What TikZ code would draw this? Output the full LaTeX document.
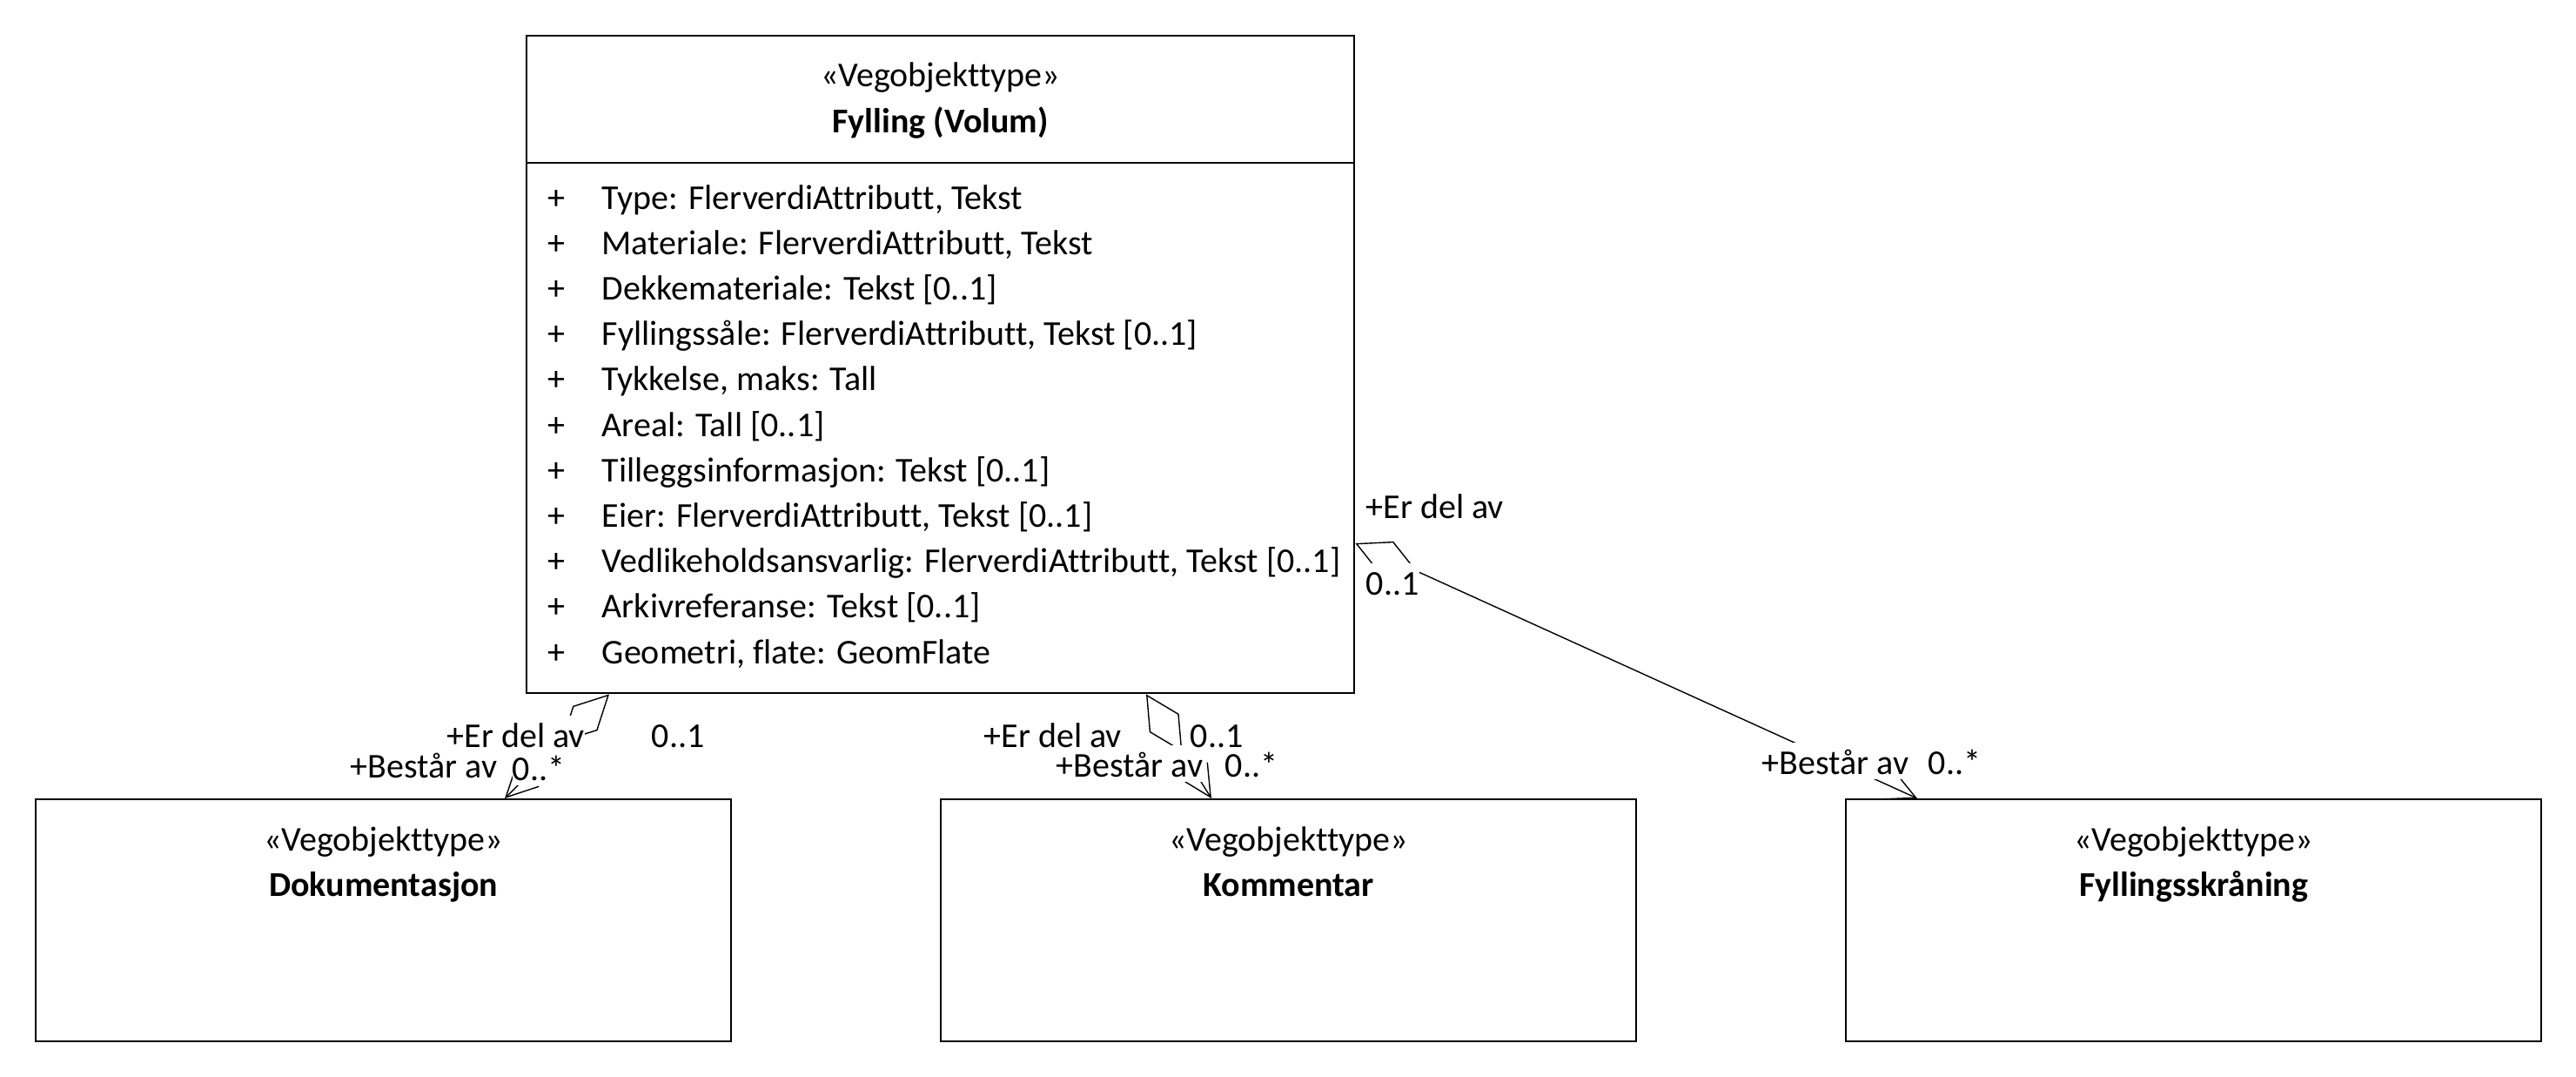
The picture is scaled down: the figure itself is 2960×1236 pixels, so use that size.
\documentclass[tikz,border=0pt]{standalone}
\usepackage{fontspec}
\setmainfont{Carlito}[Ligatures=NoCommon]
\usetikzlibrary{arrows.meta,calc}

\begin{document}
\begin{tikzpicture}[
    x=0.25pt, y=-0.25pt,
    font=\fontsize{10}{13}\selectfont,
    classbox/.style={draw, line width=0.6pt, inner sep=0pt, anchor=north west},
    bigbox/.style={classbox, minimum width=237.75pt, minimum height=188.75pt},
    smallbox/.style={classbox, minimum width=199.75pt, minimum height=69.5pt},
    stereo/.style={inner sep=0pt, text height=0.75em, text depth=0.25em},
    cname/.style={stereo, font=\fontsize{10}{13}\selectfont\bfseries},
    attr/.style={inner sep=0pt, anchor=west, text height=0.75em, text depth=0.25em},
    role/.style={fill=white, inner sep=0pt, anchor=west, text height=0.9em, text depth=0.15em},
    assoc/.style={line width=0.35pt,
        {Diamond[open, length=19.5pt, width=10pt]}-{Straight Barb[length=9pt, width=9pt]}}
]
\useasboundingbox (0,0) rectangle (2960,1236);

% classes
\node[bigbox] (main) at (604,40) {};
\node[smallbox] (dok) at (40,917) {};
\node[smallbox] (kom) at (1080,917) {};
\node[smallbox] (fyll) at (2120,917) {};

\draw[line width=0.6pt] ($(main.north west)+(0,147)$) -- ($(main.north east)+(0,147)$);

\node[stereo] (mainst) at ($(main.north)+(0,49)$) {«Vegobjekttype»};
\node[cname] (mainname) at ($(main.north)+(0,102)$) {Fylling (Volum)};
\node[stereo] (dokst) at ($(dok.north)+(0,50)$) {«Vegobjekttype»};
\node[cname] (dokname) at ($(dok.north)+(0,102)$) {Dokumentasjon};
\node[stereo] (komst) at ($(kom.north)+(0,50)$) {«Vegobjekttype»};
\node[cname] (komname) at ($(kom.north)+(0,102)$) {Kommentar};
\node[stereo] (fyllst) at ($(fyll.north)+(0,50)$) {«Vegobjekttype»};
\node[cname] (fyllname) at ($(fyll.north)+(0,102)$) {Fyllingsskråning};

% attributes
\foreach \txt [count=\i from 0] in {
    {Type: FlerverdiAttributt, Tekst},
    {Materiale: FlerverdiAttributt, Tekst},
    {Dekkemateriale: Tekst [0..1]},
    {Fyllingssåle: FlerverdiAttributt, Tekst [0..1]},
    {Tykkelse, maks: Tall},
    {Areal: Tall [0..1]},
    {Tilleggsinformasjon: Tekst [0..1]},
    {Eier: FlerverdiAttributt, Tekst [0..1]},
    {Vedlikeholdsansvarlig: FlerverdiAttributt, Tekst [0..1]},
    {Arkivreferanse: Tekst [0..1]},
    {Geometri, flate: GeomFlate}}
    \node[attr] (attr\i) at (629, {230+52.2*\i}) {\makebox[15.5pt][l]{+}\txt};

% associations
\draw[assoc] ($(main.south west)+(96,0)$) -- ($(dok.north west)+(540,0)$);
\draw[assoc] ($(main.south west)+(713,0)$) -- ($(kom.north west)+(312,0)$);
\draw[assoc] ($(main.north east)+(0,584)$) -- ($(fyll.north west)+(83,0)$);

% role names
\node[role] (dokrole) at (402,878) {+Består av};
\node[role] (dokmult) at (588,881) {0..*};
\node[role] (mainrole1) at (513,843) {+Er del av};
\node[role] (mainmult1) at (748,843) {0..1};

\node[role] (komrole) at (1213,877) {+Består av};
\node[role] (kommult) at (1407,877) {0..*};
\node[role] (mainrole2) at (1130,843) {+Er del av};
\node[role] (mainmult2) at (1367,843) {0..1};

\node[role] (fyllrole) at (2024,874) {+Består av};
\node[role] (fyllmult) at (2215,874) {0..*};
\node[role] (mainrole3) at (1569,580) {+Er del av};
\node[role] (mainmult3) at (1569,668) {0..1};
\end{tikzpicture}
\end{document}
